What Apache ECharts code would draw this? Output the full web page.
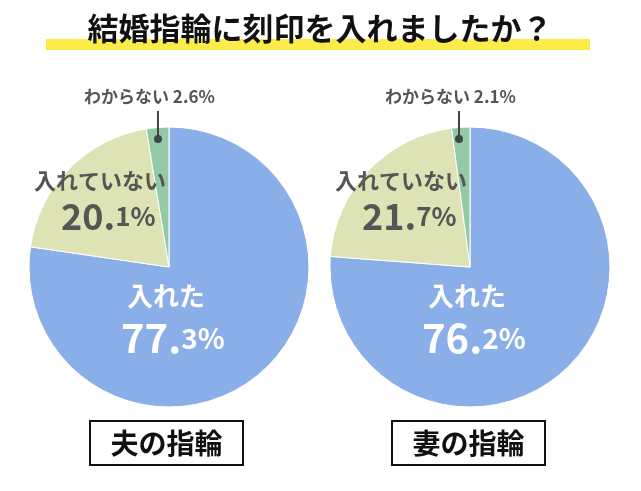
<!DOCTYPE html>
<html>
<head>
<meta charset="utf-8">
<script src="https://cdn.jsdelivr.net/npm/echarts@6/dist/echarts.min.js"></script>
<style>html,body{margin:0;background:#fff}#main{width:641px;height:491px}</style>
</head>
<body>
<div id="main"></div>
<script>
var categories = ['入れた', '入れていない', 'わからない'];
var husband = [77.3, 20.1, 2.6];
var wife = [76.2, 21.7, 2.1];
var panelTitles = ['夫の指輪', '妻の指輪'];
var colors = ['#8aaee8', '#dde3b5', '#93c9a6'];

var FONT = '"Noto Sans CJK JP", sans-serif';
var chart = echarts.init(document.getElementById('main'));

function split(v) {
  var s = v.toFixed(1), i = s.indexOf('.');
  return [s.slice(0, i + 1), s.slice(i + 1) + '%'];
}

function mkSeries(vals, cx) {
  return {
    type: 'pie', center: [cx, 267], radius: 140, startAngle: 90, clockwise: true, z: 1,
    label: { show: false }, labelLine: { show: false }, silent: true,
    itemStyle: { borderColor: '#fff', borderWidth: 1 },
    data: vals.map(function (v, i) { return { name: categories[i], value: v, itemStyle: { color: colors[i] } }; })
  };
}

function mkLabels(vals, cx) {
  var g = [];
  var a = split(vals[0]), b = split(vals[1]);
  g.push({ type: 'text', left: cx - 42, top: 283, style: { text: categories[0], font: 'bold 26px ' + FONT, fill: '#fff' } });
  g.push({ type: 'text', left: cx - 48, top: 318, style: { rich: { a: { font: 'bold 40px ' + FONT, fill: '#fff' }, b: { font: 'bold 28px ' + FONT, fill: '#fff' } }, text: '{a|' + a[0] + '}{b|' + a[1] + '}' } });
  g.push({ type: 'text', left: cx - 135, top: 170, style: { text: categories[1], font: 'bold 22px ' + FONT, fill: '#555' } });
  g.push({ type: 'text', left: cx - 108, top: 198, style: { rich: { a: { font: 'bold 36px ' + FONT, fill: '#555' }, b: { font: 'bold 26px ' + FONT, fill: '#555' } }, text: '{a|' + b[0] + '}{b|' + b[1] + '}' } });
  g.push({ type: 'text', left: cx - 85, top: 88, style: { text: categories[2] + ' ' + vals[2].toFixed(1) + '%', font: 'bold 17px ' + FONT, fill: '#555' } });
  g.push({ type: 'line', shape: { x1: cx - 11, y1: 111, x2: cx - 11, y2: 138 }, style: { stroke: '#444', lineWidth: 2 } });
  g.push({ type: 'circle', shape: { cx: cx - 11, cy: 139, r: 4 }, style: { fill: '#444' } });
  return g;
}

function mkBox(text, x) {
  return [
    { type: 'rect', shape: { x: x, y: 421, width: 153, height: 44 }, style: { fill: '#fff', stroke: '#111', lineWidth: 2 } },
    { type: 'text', x: x + 76.5, y: 443, style: { text: text, font: 'bold 28px ' + FONT, fill: '#111', align: 'center', verticalAlign: 'middle' } }
  ];
}

var graphics = [
  { type: 'rect', shape: { x: 46, y: 39, width: 544, height: 11 }, style: { fill: '#fdeb4a' } },
  { type: 'text', x: 320, y: 28, style: { text: '結婚指輪に刻印を入れましたか？', font: 'bold 31px ' + FONT, fill: '#111', align: 'center', verticalAlign: 'middle' } }
].concat(mkLabels(husband, 169), mkLabels(wife, 470), mkBox(panelTitles[0], 90), mkBox(panelTitles[1], 392));
graphics.forEach(function (e) { e.z = 100; });

chart.setOption({
  animation: false,
  series: [mkSeries(husband, 169), mkSeries(wife, 470)],
  graphic: graphics
});
</script>
</body>
</html>
